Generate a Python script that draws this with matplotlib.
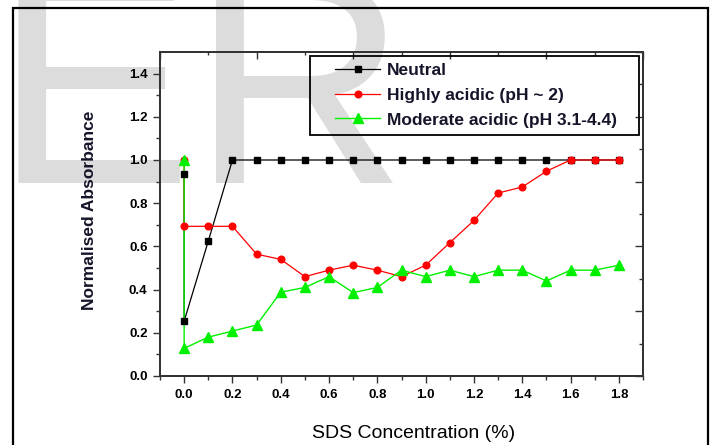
import numpy as np
import matplotlib
matplotlib.use('Agg')
from matplotlib import pyplot as plt
from matplotlib.patches import Rectangle
from matplotlib.ticker import FixedLocator

plt.rcParams['font.family'] = ['Liberation Sans', 'DejaVu Sans']

# data (x = SDS %, first x=0 point is the starting value)
neutral_x = [0.0, 0.0, 0.1, 0.2, 0.3, 0.4, 0.5, 0.6, 0.7, 0.8, 0.9, 1.0, 1.1, 1.2, 1.3, 1.4, 1.5, 1.6, 1.7, 1.8]
neutral_y = [0.936, 0.254, 0.625, 1.0, 1.0, 1.0, 1.0, 1.0, 1.0, 1.0, 1.0, 1.0, 1.0, 1.0, 1.0, 1.0, 1.0, 1.0, 1.0, 1.0]

acidic_x = [0.0, 0.0, 0.1, 0.2, 0.3, 0.4, 0.5, 0.6, 0.7, 0.8, 0.9, 1.0, 1.1, 1.2, 1.3, 1.4, 1.5, 1.6, 1.7, 1.8]
acidic_y = [1.0, 0.693, 0.693, 0.693, 0.564, 0.54, 0.46, 0.49, 0.513, 0.49, 0.46, 0.513, 0.617, 0.72, 0.847, 0.875, 0.948, 1.0, 1.0, 1.0]

moderate_x = [0.0, 0.0, 0.1, 0.2, 0.3, 0.4, 0.5, 0.6, 0.7, 0.8, 0.9, 1.0, 1.1, 1.2, 1.3, 1.4, 1.5, 1.6, 1.7, 1.8]
moderate_y = [1.0, 0.128, 0.18, 0.208, 0.236, 0.388, 0.41, 0.46, 0.386, 0.41, 0.49, 0.46, 0.49, 0.46, 0.49, 0.49, 0.44, 0.49, 0.49, 0.513]

labels = ['Neutral', 'Highly acidic (pH ~ 2)', 'Moderate acidic (pH 3.1-4.4)']
x_ticks = [0.0, 0.2, 0.4, 0.6, 0.8, 1.0, 1.2, 1.4, 1.6, 1.8]
x_ticklabels = ['0.0', '0.2', '0.4', '0.6', '0.8', '1.0', '1.2', '1.4', '1.6', '1.8']
y_ticks = [0.0, 0.2, 0.4, 0.6, 0.8, 1.0, 1.2, 1.4]
y_ticklabels = ['0.0', '0.2', '0.4', '0.6', '0.8', '1.0', '1.2', '1.4']

W, H = 711, 445
WM_SIZE = 207


def watermark_ink(size):
    # render the watermark alone once to find where its ink sits relative to the anchor
    f = plt.figure(figsize=(W / 100, H / 100), dpi=100)
    f.text(0.3, 0.6, 'ER', fontsize=size, color='black', family='Liberation Sans',
           ha='left', va='baseline')
    f.canvas.draw()
    img = np.asarray(f.canvas.buffer_rgba())
    plt.close(f)
    ys, xs = np.nonzero(img[..., 0] < 128)
    ax0, ay0 = 0.3 * W, (1 - 0.6) * H
    return xs.min() - ax0, xs.max() - ax0, ys.max() - ay0


left_off, right_off, bottom_off = watermark_ink(WM_SIZE)
scale = (391 - 19) / (right_off - left_off)
wm_size = WM_SIZE * scale
wm_x = 19 - left_off * scale
wm_base = 183 - bottom_off * scale

fig = plt.figure(figsize=(W / 100, H / 100), dpi=100)

# grey watermark behind everything
fig.text(wm_x / W, 1 - wm_base / H, 'ER', fontsize=wm_size, color='#dcdcdc',
         family='Liberation Sans', ha='left', va='baseline', zorder=-5)

# outer frame
fig.add_artist(Rectangle((13 / W, -0.1), (708 - 13) / W, 1 - 8 / H + 0.1,
                         transform=fig.transFigure, fill=False,
                         edgecolor='black', linewidth=1.6, zorder=10))

ax = fig.add_axes([160 / W, 1 - 376 / H, 483 / W, 324 / H])
ax.patch.set_alpha(0)

green = '#00f000'
l1, = ax.plot(neutral_x, neutral_y, color='black', lw=0.9, zorder=2)
l2, = ax.plot(acidic_x, acidic_y, color='#ff0000', lw=0.9, zorder=2)
l3, = ax.plot(moderate_x, moderate_y, color=green, lw=1.0, zorder=2)
m1, = ax.plot(neutral_x, neutral_y, ls='none', marker='s', ms=5, color='black', zorder=3)
m2, = ax.plot(acidic_x, acidic_y, ls='none', marker='o', ms=4.8, color='#ff0000', zorder=4)
m3, = ax.plot(moderate_x, moderate_y, ls='none', marker='^', ms=7, color=green, zorder=5)

ax.set_xlim(-0.1, 1.9)
ax.set_ylim(0, 1.5)
ax.set_xticks(x_ticks)
ax.set_xticklabels(x_ticklabels, fontsize=9.5, fontweight='bold')
ax.set_yticks(y_ticks)
ax.set_yticklabels(y_ticklabels, fontsize=9.5, fontweight='bold')
ax.xaxis.set_minor_locator(FixedLocator(np.arange(-0.1, 1.95, 0.2)))
ax.yaxis.set_minor_locator(FixedLocator(np.arange(0.1, 1.5, 0.2)))
ax.tick_params(which='major', direction='out', length=5, width=1.0, pad=4, color='#333333')
ax.tick_params(which='minor', direction='out', length=3, width=1.0, color='#333333')
for s in ax.spines.values():
    s.set_linewidth(1.2)
    s.set_color('#333333')

# Origin style opposite axes with their own tick spacing
axr = ax.twinx()
axr.set_ylim(0, 1.5)
axr.yaxis.set_major_locator(FixedLocator(np.arange(0, 1.51, 0.3)))
axr.yaxis.set_minor_locator(FixedLocator(np.arange(0.15, 1.5, 0.3)))
axr.tick_params(which='major', direction='in', length=6, width=1.0, labelright=False, color='#333333')
axr.tick_params(which='minor', direction='in', length=3, width=1.0, color='#333333')
axt = ax.twiny()
axt.set_xlim(-0.1, 1.9)
axt.xaxis.set_major_locator(FixedLocator(np.arange(-0.1, 1.95, 0.4)))
axt.xaxis.set_minor_locator(FixedLocator(np.arange(0.1, 1.9, 0.4)))
axt.tick_params(which='major', direction='in', length=5, width=1.0, labeltop=False, color='#333333')
axt.tick_params(which='minor', direction='in', length=2.5, width=1.0, color='#333333')
for a in (axr, axt):
    a.patch.set_alpha(0)
    for s in a.spines.values():
        s.set_linewidth(1.2)
        s.set_color('#333333')

ax.set_xlabel('SDS Concentration (%)', fontsize=14, va='center')
ax.xaxis.set_label_coords((414 - 160) / 483, (376 - 433) / 324)
ax.set_ylabel('Normalised Absorbance', fontsize=12.5, fontweight='bold', va='center', color='#15152a')
ax.yaxis.set_label_coords((89 - 160) / 483, (376 - 210) / 324)

# legend: box drawn separately, entries placed inside
axt.add_patch(Rectangle(((310 - 160) / 483, (376 - 135) / 324), (639 - 310) / 483, (135 - 56) / 324,
                        transform=ax.transAxes, fill=False, edgecolor='black', lw=1.3, zorder=6))
leg = axt.legend([(l1, m1), (l2, m2), (l3, m3)], labels, loc='upper left',
                 bbox_to_anchor=((335 - 160) / 483, (376 - 63) / 324),
                 frameon=False, borderpad=0, borderaxespad=0, handlelength=2.6,
                 handletextpad=0.4, labelspacing=0.55,
                 prop={'size': 12.5, 'weight': 'bold'})
for t in leg.get_texts():
    t.set_color('#15152a')

fig.savefig('out.png', dpi=100)
